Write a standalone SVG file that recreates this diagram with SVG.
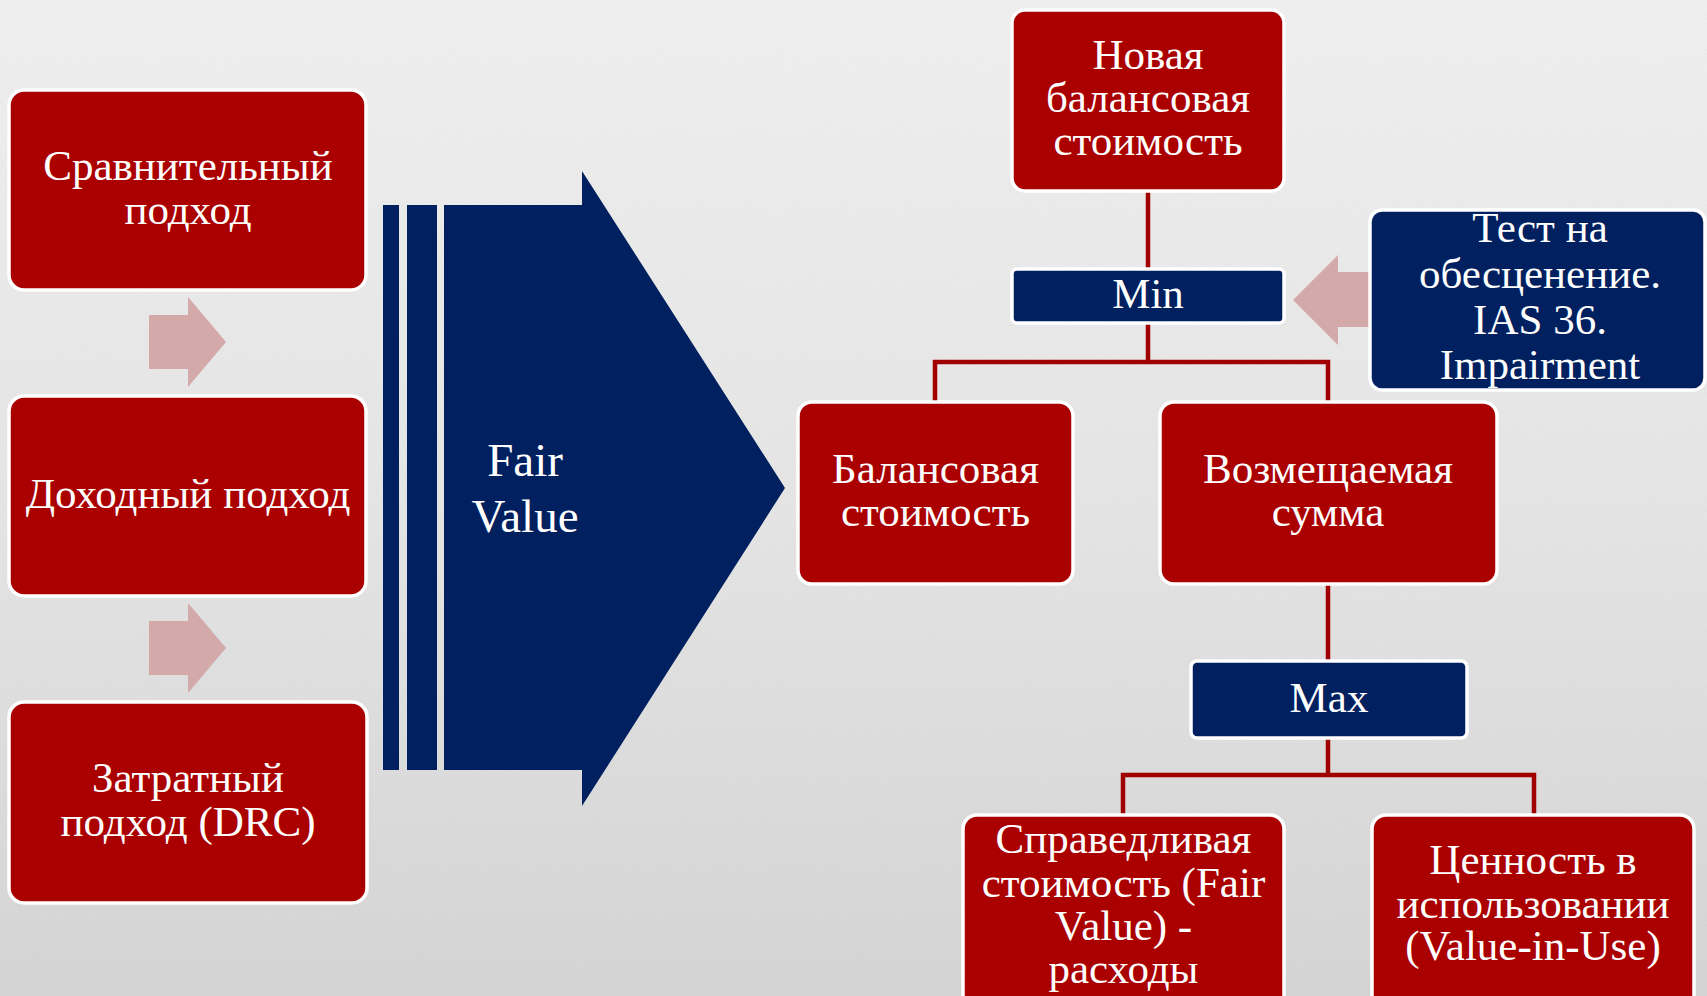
<svg xmlns="http://www.w3.org/2000/svg" width="1707" height="996" viewBox="0 0 1707 996">
<defs>
<linearGradient id="bg" x1="0" y1="0" x2="0" y2="1">
<stop offset="0" stop-color="#f3f3f3"/>
<stop offset="0.5" stop-color="#e8e8e8"/>
<stop offset="1" stop-color="#d6d6d6"/>
</linearGradient>
<filter id="noise" x="0" y="0" width="100%" height="100%">
<feTurbulence type="fractalNoise" baseFrequency="0.9" numOctaves="2" seed="3"/>
<feColorMatrix type="matrix" values="0 0 0 0 0.5  0 0 0 0 0.5  0 0 0 0 0.5  0 0 0 0.18 0"/>
</filter>
<style>
.red{fill:#aa0000;stroke:#ffffff;stroke-width:3.5}
.blue{fill:#00205f;stroke:#ffffff;stroke-width:3.5}
.pink{fill:#d4a9a9}
.navy{fill:#00205f}
.t{font-family:"Liberation Serif","Times New Roman",serif;font-size:43px;fill:#ffffff;text-anchor:middle}
.fv{font-size:47px}
.conn{fill:none;stroke:#a00000;stroke-width:4.5}
</style>
</defs>
<rect x="0" y="0" width="1707" height="996" fill="url(#bg)"/>
<rect x="0" y="0" width="1707" height="996" filter="url(#noise)"/>

<g id="connectors">
<path class="conn" d="M1148 191 V269"/>
<path class="conn" d="M1148 323 V362"/>
<path class="conn" d="M935 402 V362 H1328 V402"/>
<path class="conn" d="M1328 584 V661"/>
<path class="conn" d="M1328 738 V775"/>
<path class="conn" d="M1123 814 V775 H1534 V814"/>
</g>

<g id="arrow-1"><polygon class="pink" points="149,315 188,315 188,297 226,342 188,387 188,369 149,369"/></g>
<g id="arrow-2"><polygon class="pink" points="149,621 188,621 188,603 226,648 188,693 188,675 149,675"/></g>

<g id="node-comparative">
<rect class="red" x="9" y="90" width="357" height="200" rx="15"/>
<text class="t" x="188" y="180">Сравнительный</text>
<text class="t" x="188" y="224">подход</text>
</g>
<g id="node-income">
<rect class="red" x="9" y="396" width="357" height="200" rx="15"/>
<text class="t" x="188" y="508">Доходный подход</text>
</g>
<g id="node-cost">
<rect class="red" x="9" y="702" width="358" height="201" rx="15"/>
<text class="t" x="188" y="792">Затратный</text>
<text class="t" x="188" y="836">подход (DRC)</text>
</g>

<g id="node-fair-value">
<rect class="navy" x="383" y="205" width="16" height="565"/>
<rect class="navy" x="407" y="205" width="30" height="565"/>
<polygon class="navy" points="444,205 582,205 582,171 785,488 582,806 582,770 444,770"/>
<text class="t fv" x="525" y="476">Fair</text>
<text class="t fv" x="525" y="532">Value</text>
</g>

<g id="node-new-carrying">
<rect class="red" x="1012" y="10" width="272" height="181" rx="13"/>
<text class="t" x="1148" y="69">Новая</text>
<text class="t" x="1148" y="112">балансовая</text>
<text class="t" x="1148" y="155">стоимость</text>
</g>
<g id="node-min">
<rect class="blue" x="1012" y="269" width="272" height="54" rx="5"/>
<text class="t" x="1148" y="308">Min</text>
</g>
<g id="arrow-3"><polygon class="pink" points="1293,300 1338,255 1338,272 1370,272 1370,327 1338,327 1338,345"/></g>
<g id="node-impairment">
<rect class="blue" x="1370" y="210" width="335" height="180" rx="12"/>
<text class="t" x="1540" y="242">Тест на</text>
<text class="t" x="1540" y="288">обесценение.</text>
<text class="t" x="1540" y="334">IAS 36.</text>
<text class="t" x="1540" y="379">Impairment</text>
</g>
<g id="node-carrying">
<rect class="red" x="798" y="402" width="275" height="182" rx="14"/>
<text class="t" x="935.5" y="483">Балансовая</text>
<text class="t" x="935.5" y="526">стоимость</text>
</g>
<g id="node-recoverable">
<rect class="red" x="1160" y="402" width="337" height="182" rx="14"/>
<text class="t" x="1328" y="483">Возмещаемая</text>
<text class="t" x="1328" y="526">сумма</text>
</g>
<g id="node-max">
<rect class="blue" x="1191" y="661" width="276" height="77" rx="6"/>
<text class="t" x="1329" y="712">Max</text>
</g>
<g id="node-fv-less-costs">
<rect class="red" x="963" y="815" width="321" height="200" rx="14"/>
<text class="t" x="1123.5" y="853">Справедливая</text>
<text class="t" x="1123.5" y="897">стоимость (Fair</text>
<text class="t" x="1123.5" y="940">Value) -</text>
<text class="t" x="1123.5" y="983">расходы</text>
</g>
<g id="node-value-in-use">
<rect class="red" x="1372" y="815" width="322" height="200" rx="14"/>
<text class="t" x="1533" y="874">Ценность в</text>
<text class="t" x="1533" y="918">использовании</text>
<text class="t" x="1533" y="960">(Value-in-Use)</text>
</g>
</svg>
